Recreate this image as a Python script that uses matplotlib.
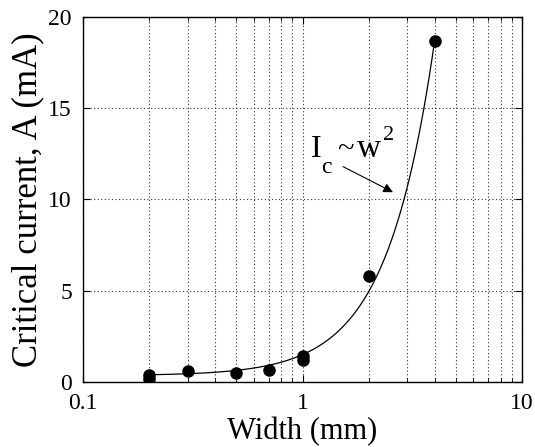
import numpy as np
import matplotlib
matplotlib.use("Agg")
import matplotlib.pyplot as plt
from matplotlib.ticker import LogLocator, NullFormatter

plt.rcParams['font.family'] = ['Liberation Serif', 'DejaVu Serif']

# measured data
width_mm = [0.2, 0.2, 0.3, 0.5, 0.7, 1.0, 1.0, 2.0, 4.0]
current_mA = [0.4, 0.15, 0.6, 0.5, 0.65, 1.2, 1.45, 5.8, 18.7]

# quadratic fit Ic = a + b*w^2
fit_a = 0.35
fit_b = 1.15
fit_range = [0.2, 4.0]

xticks = [0.1, 1, 10]
xticklabels = ['0.1', '1', '10']
yticks = [0, 5, 10, 15, 20]

fig = plt.figure(figsize=(5.35, 4.47), dpi=100)
ax = fig.add_axes([0.155, 0.1454, 0.821, 0.8166])

wf = np.logspace(np.log10(fit_range[0]), np.log10(fit_range[1]), 300)
ax.plot(wf, fit_a + fit_b * wf**2, color='black', lw=0.9)
ax.plot(width_mm, current_mA, 'o', color='black', ms=8)

ax.set_xscale('log')
ax.set_xlim(0.1, 10)
ax.set_ylim(0, 20)
ax.set_xticks(xticks)
ax.set_xticklabels(xticklabels)
ax.xaxis.set_minor_locator(LogLocator(base=10, subs=np.arange(2, 10)))
ax.xaxis.set_minor_formatter(NullFormatter())
ax.set_yticks(yticks)

gkw = dict(linestyle=(0, (1, 2.2)), color='0.2', lw=0.8)
ax.grid(True, which='both', axis='x', **gkw)
ax.grid(True, which='major', axis='y', **gkw)

ax.tick_params(which='both', direction='in', top=True, right=True,
               labelsize=17, pad=8, length=5)
ax.tick_params(which='minor', length=3)
for s in ax.spines.values():
    s.set_linewidth(1.0)

ax.set_xlabel('Width (mm)', fontsize=22, labelpad=2)
ax.set_ylabel('Critical current, A (mA)', fontsize=25, labelpad=3)

ax.annotate('', xy=(2.58, 10.4), xytext=(1.53, 11.8),
            arrowprops=dict(arrowstyle='-|>', color='black', lw=0.8,
                            mutation_scale=14, shrinkA=0, shrinkB=0))

# label "I_c ~ w^2" composed from pieces
anchor = (1.093, 12.33)
pieces = [('I', 23, 0, 0), ('c', 17, 10, -16), ('~', 22, 26, 0),
          ('w', 24, 46, 0), ('2', 16, 72, 17)]
for txt, fs, dx, dy in pieces:
    ax.annotate(txt, xy=anchor, xytext=(dx, dy), textcoords='offset pixels',
                fontsize=fs, ha='left', va='baseline')

fig.savefig('out.png', dpi=100)
